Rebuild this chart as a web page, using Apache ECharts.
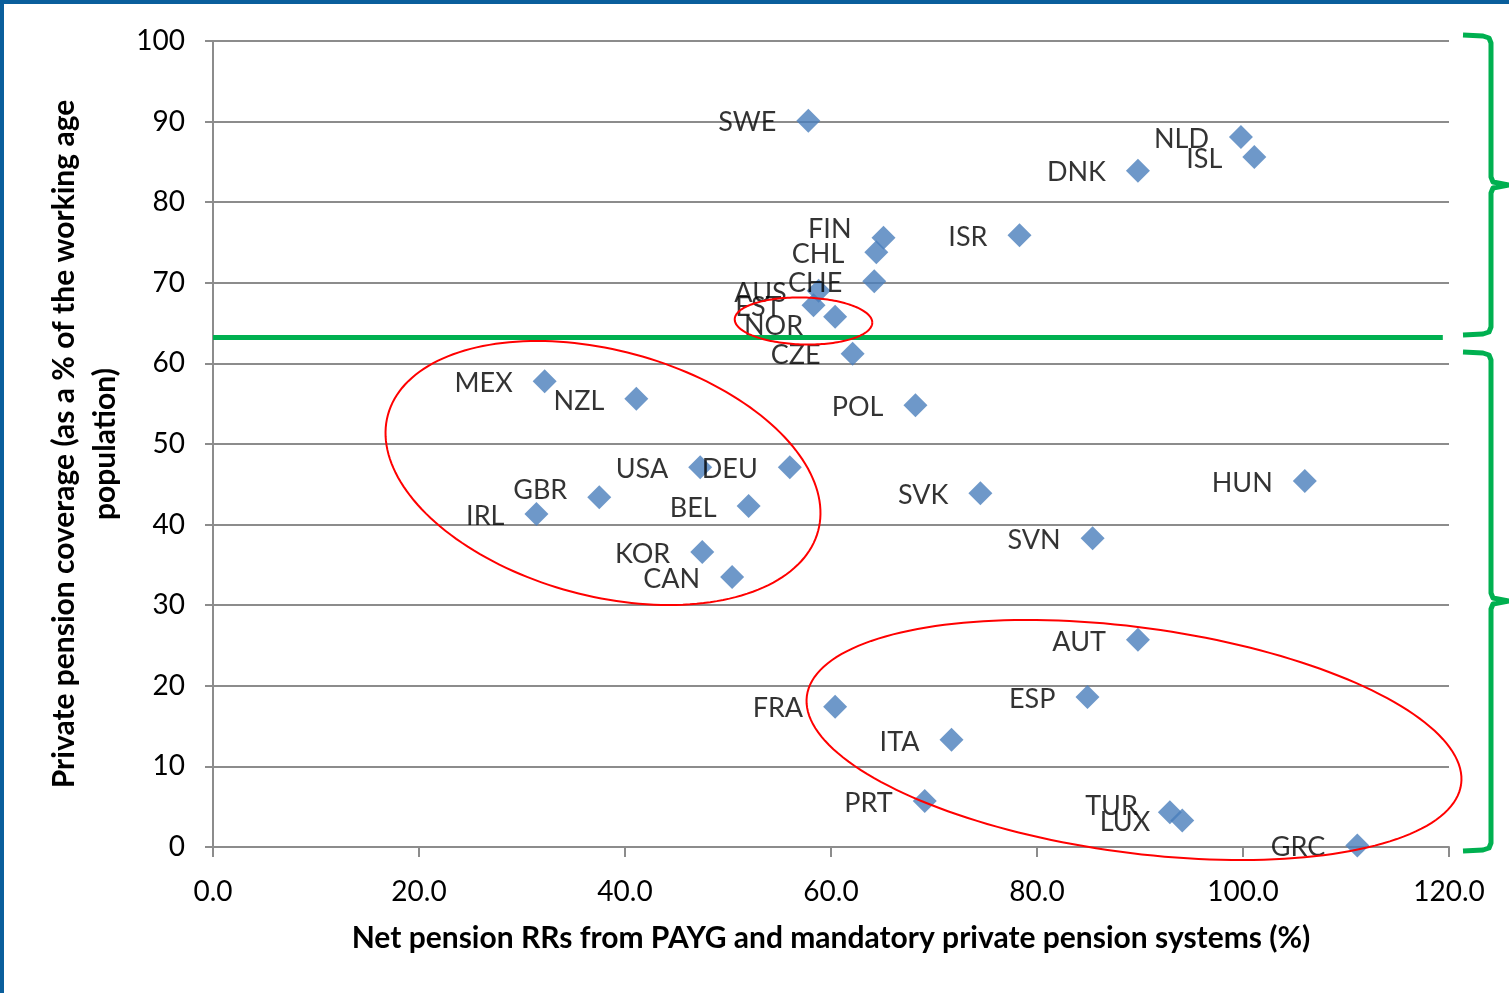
<!DOCTYPE html>
<html>
<head>
<meta charset="utf-8">
<script src="https://cdn.jsdelivr.net/npm/echarts@6/dist/echarts.min.js"></script>
<style>
html,body{margin:0;padding:0;background:#fff;}
#c{width:1509px;height:993px;}
</style>
</head>
<body>
<div id="c"></div>
<script>
// ---- data ----
const countries = ['SWE','NLD','ISL','DNK','ISR','FIN','CHL','CHE','AUS','EST','NOR','CZE','POL','MEX','NZL','USA','DEU','GBR','BEL','IRL','KOR','CAN','SVK','HUN','SVN','AUT','ESP','FRA','ITA','PRT','TUR','LUX','GRC'];
const replacementRates = [57.8,99.8,101.1,89.8,78.3,65.1,64.4,64.2,58.8,58.3,60.4,62.1,68.2,32.2,41.1,47.3,56.0,37.5,52.0,31.4,47.5,50.4,74.5,106.0,85.4,89.8,84.9,60.4,71.7,69.1,92.9,94.1,111.1];
const coverage = [90.1,88.1,85.6,83.9,75.9,75.6,73.8,70.2,69.0,67.2,65.8,61.2,54.8,57.8,55.6,47.1,47.1,43.4,42.3,41.3,36.6,33.5,43.9,45.4,38.3,25.7,18.6,17.4,13.3,5.7,4.3,3.3,0.2];
const labelShift = {FIN:-10, NOR:8, GBR:-9, TUR:-8};
const thresholdCoverage = 63.3;
const xTicks = {min:0, max:120, interval:20};
const yTicks = {min:0, max:100, interval:10};
const xTitle = 'Net pension RRs from PAYG and mandatory private pension systems (%)';
const yTitle = 'Private pension coverage (as a % of the working age\npopulation)';

const FONT = 'Lato';
const chart = echarts.init(document.getElementById('c'), null, {renderer:'canvas'});

const points = countries.map((c,i)=>({
  name:c,
  value:[replacementRates[i], coverage[i]],
  label:{offset:[0, 2 + (labelShift[c]||0)]}
}));

// annotation ellipses (pixel space decorations)
function ellipsePts(cx,cy,a,b,deg){
  const t0 = deg*Math.PI/180, pts=[];
  for(let k=0;k<=180;k++){
    const t = k/180*2*Math.PI;
    pts.push([cx + a*Math.cos(t)*Math.cos(t0) - b*Math.sin(t)*Math.sin(t0),
              cy + a*Math.cos(t)*Math.sin(t0) + b*Math.sin(t)*Math.cos(t0)]);
  }
  return pts;
}
function brace(x0, xv, xt, yTop, yTip, yBot){
  const r=8;
  return [[x0,yTop],[xv-r,yTop+1],[xv-2,yTop+3],[xv,yTop+r],
          [xv,yTip-8],[xv+2,yTip-3],[xt,yTip],[xv+2,yTip+3],[xv,yTip+8],
          [xv,yBot-r],[xv-2,yBot-3],[xv-r,yBot-1],[x0,yBot]];
}
const red = '#ff0000', green = '#00b050';

chart.setOption({
  animation:false,
  grid:{left:213, right:60, top:41, bottom:146, containLabel:false},
  xAxis:{
    type:'value', min:xTicks.min, max:xTicks.max, interval:xTicks.interval,
    name:xTitle, nameLocation:'middle', nameGap:76,
    nameTextStyle:{fontFamily:FONT, fontWeight:'bold', fontSize:30, color:'#000'},
    axisLine:{show:true, lineStyle:{color:'#8c8c8c', width:2}},
    axisTick:{show:true, length:10, lineStyle:{color:'#8c8c8c', width:2}},
    axisLabel:{fontFamily:FONT, fontSize:28, color:'#000', margin:31, formatter:v=>v.toFixed(1)},
    splitLine:{show:false}
  },
  yAxis:{
    type:'value', min:yTicks.min, max:yTicks.max, interval:yTicks.interval,
    name:yTitle, nameLocation:'middle', nameGap:86,
    nameTextStyle:{fontFamily:FONT, fontWeight:'bold', fontSize:30, color:'#000', lineHeight:41, align:'center'},
    axisLine:{show:true, lineStyle:{color:'#8c8c8c', width:2}},
    axisTick:{show:true, length:8, lineStyle:{color:'#8c8c8c', width:2}},
    axisLabel:{fontFamily:FONT, fontSize:28, color:'#000', margin:28},
    splitLine:{show:true, lineStyle:{color:'#8c8c8c', width:2}}
  },
  series:[{
    type:'scatter',
    symbol:'diamond', symbolSize:24,
    itemStyle:{color:'#4a7ebb'},
    data:points,
    label:{show:true, position:'left', distance:20, formatter:p=>p.name,
      fontFamily:FONT, fontSize:27, color:'#000'},
    markLine:{
      silent:true, symbol:'none', label:{show:false},
      lineStyle:{color:green, width:5, type:'solid'},
      data:[[{coord:[0, thresholdCoverage]},{coord:[119.4, thresholdCoverage]}]]
    },
    z:3
  }],
  graphic:[
    {type:'rect', shape:{x:0,y:0,width:1509,height:4}, style:{fill:'#0a5f9c'}, z:100},
    {type:'rect', shape:{x:0,y:0,width:4,height:993}, style:{fill:'#0a5f9c'}, z:100},
    {type:'polyline', shape:{points:ellipsePts(603,473,222.8,122.8,15.1)}, style:{stroke:red, lineWidth:2, fill:null}, z:50},
    {type:'polyline', shape:{points:ellipsePts(1134,740,330.1,112.6,7.7)}, style:{stroke:red, lineWidth:2, fill:null}, z:50},
    {type:'polyline', shape:{points:ellipsePts(803.5,321,68.8,23.5,1.5)}, style:{stroke:red, lineWidth:2, fill:null}, z:50},
    {type:'polyline', shape:{points:brace(1463,1491,1509,35,185,335)}, style:{stroke:green, lineWidth:5, fill:null, lineJoin:'round'}, z:50},
    {type:'polyline', shape:{points:brace(1463,1491,1509,352,601,851)}, style:{stroke:green, lineWidth:5, fill:null, lineJoin:'round'}, z:50}
  ]
});
</script>
</body>
</html>
